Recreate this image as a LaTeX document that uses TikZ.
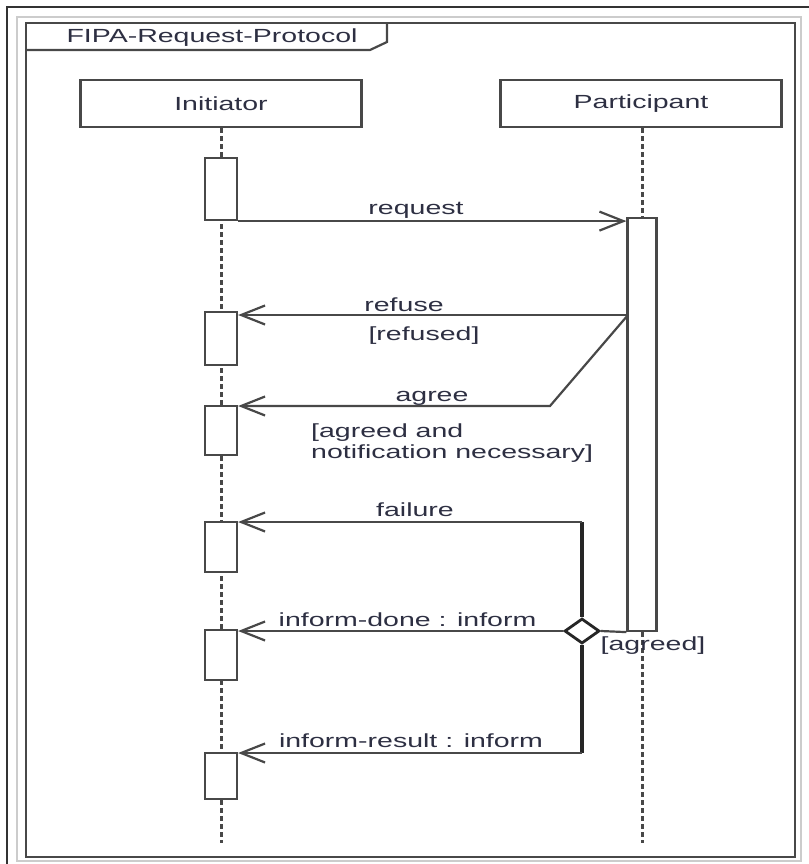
\documentclass[tikz,border=0pt]{standalone}
\usepackage{fontspec}
\setmainfont{Liberation Sans}[FakeStretch=1.5]
\usetikzlibrary{arrows.meta,shapes.geometric}
\definecolor{txt}{RGB}{45,47,66}
\definecolor{ln}{RGB}{72,72,72}
\begin{document}
\begin{tikzpicture}[x=1pt,y=-1pt,
  every node/.style={font=\fontsize{19}{21}\selectfont, text=txt},
  lbl/.style={anchor=base, inner sep=0pt},
  actor/.style={draw=ln, line width=2.2pt, rectangle, minimum width=281pt, minimum height=47pt, inner sep=0pt},
  act/.style={draw=ln, line width=2.2pt, fill=white, rectangle, minimum width=32pt, inner sep=0pt},
  life/.style={draw=ln, line width=3pt, dash pattern=on 5pt off 3pt},
  msg/.style={draw=ln, line width=2.2pt, -{Straight Barb[length=24pt,width=19pt]}},
  plain/.style={draw=ln, line width=2.2pt},
  bar/.style={draw=black!85, line width=3.4pt},
  decision/.style={diamond, draw=black!85, line width=2.8pt, fill=white, minimum width=35pt, minimum height=25pt, inner sep=0pt}]
\useasboundingbox (0,0) rectangle (808,864);
% outer frames
\draw[black!80, line width=1.6pt] (7,7) rectangle (820,875);
\draw[black!20, line width=1.5pt] (17,17) rectangle (801,861);
\draw[ln, line width=2.4pt] (26,23) rectangle (795,857);
\draw[ln, line width=2.2pt] (26,50) -- (370,50) -- (387,42) -- (387,23);
\node[lbl] (title) at (212,42.5) {FIPA-Request-Protocol};
% actors
\node[actor] (ini) at (221,103.5) {Initiator};
\node[actor] (par) at (641,103.5) {Participant};
\coordinate (iend) at (221,843);
\coordinate (pend) at (642,843);
\draw[life] (ini.south) -- (iend);
\draw[life] (par.south -| pend) -- (pend);
% activations
\node[act, minimum height=62pt] (a1) at (221,189) {};
\node[act, minimum height=53pt] (a2) at (221,338.5) {};
\node[act, minimum height=49pt] (a3) at (221,430.5) {};
\node[act, minimum height=50pt] (a4) at (221,547) {};
\node[act, minimum height=50pt] (a5) at (221,655) {};
\node[act, minimum height=46pt] (a6) at (221,776) {};
\node[act, minimum width=29pt, minimum height=413pt] (p1) at (642,424.5) {};
% request
\draw[msg] (a1.south east) -- (a1.south east -| p1.west);
\node[lbl] (lreq) at (416,214) {request};
% refuse / agree
\coordinate (rf) at (628,315);
\coordinate (ab) at (550,406);
\draw[msg] (rf) -- (rf -| a2.east);
\draw[msg] (rf) -- (ab) -- (ab -| a3.east);
\node[lbl] (lref) at (404,311) {refuse};
\node[lbl] (lrefd) at (424,340) {[refused]};
\node[lbl] (lagr) at (432,401) {agree};
\node[lbl, anchor=base west] (lagr1) at (311,437) {[agreed and};
\node[lbl, anchor=base west] (lagr2) at (311,458) {notification necessary]};
% decision and results
\node[decision] (dia) at (582,631) {};
\coordinate (ft) at (582,522);
\coordinate (rb) at (582,753);
\draw[bar] (ft) -- (dia.north);
\draw[bar] (dia.south) -- (rb);
\draw[msg] (ft) -- (ft -| a4.east);
\draw[plain] (p1.south west) -- (dia.east);
\draw[msg] (dia.west) -- (dia.west -| a5.east);
\draw[msg] (rb) -- (rb -| a6.east);
\node[lbl] (lfail) at (415,516) {failure};
\node[lbl] (ldone) at (407.5,626) {inform-done : inform};
\node[lbl] (lres) at (411,747) {inform-result : inform};
\node[lbl] (lagd) at (653,650) {[agreed]};
\end{tikzpicture}
\end{document}
